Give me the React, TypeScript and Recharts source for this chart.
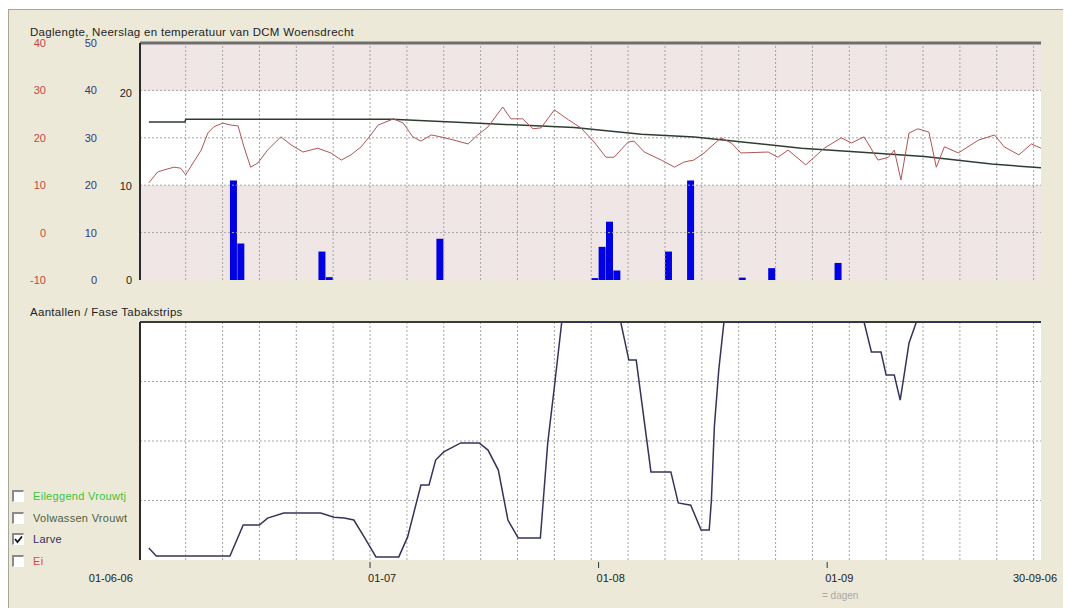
import React from 'react';
import { ComposedChart, LineChart, Line, Bar, XAxis, YAxis, ReferenceArea, ReferenceLine } from 'recharts';

const FONT = '"Liberation Sans", Arial, sans-serif';

// [day since 01-06-06, value]
const temperature: [number, number][] = [
  [0, 10.5], [1.2, 12.8], [2, 13.2], [3.4, 13.8], [4.3, 13.6], [5, 12.2], [6, 14.7], [7.1, 17.4], [8, 21.0],
  [8.8, 22.3], [10, 23.1], [11.1, 22.7], [12.1, 22.5], [12.9, 18.1], [13.8, 13.8], [14.8, 14.7], [16.1, 17.4],
  [17.9, 20.2], [19.3, 18.5], [20.9, 17.0], [22.9, 17.8], [24.7, 16.8], [26.1, 15.3], [27.4, 16.4], [28.8, 18.1],
  [30.1, 20.6], [31.1, 22.7], [33.2, 24.0], [34.5, 23.1], [35.8, 20.2], [36.9, 19.3], [38.3, 20.6], [39.6, 20.2],
  [41.4, 19.5], [43.3, 18.7], [44.6, 20.6], [46, 22.3], [48, 26.5], [49.1, 24.0], [50.7, 24.0], [52.1, 21.9],
  [53.2, 22.1], [55, 25.9], [56.9, 23.8], [58.6, 22.1], [60.4, 19.1], [62, 15.9], [63.1, 15.9], [65, 19.1],
  [65.8, 19.3], [67.2, 17.0], [69.5, 15.3], [71.3, 13.8], [72.6, 14.9], [73.9, 15.3], [75.3, 16.8], [77.6, 20.0],
  [79, 18.9], [80.3, 16.8], [84, 17.0], [85.3, 15.9], [86.7, 17.4], [89.1, 14.3], [91.6, 17.8], [93.9, 20.0],
  [95.3, 18.9], [97, 20.2], [98.9, 15.3], [100.3, 15.9], [101.1, 17.4], [102, 11.1], [103.1, 21.0], [104.3, 21.9],
  [105.8, 21.2], [106.8, 13.8], [107.9, 18.1], [109.8, 16.8], [112.5, 19.5], [114.7, 20.6], [116, 18.1],
  [118, 16.4], [119.7, 18.7], [121, 17.8],
];

const dayLength: [number, number][] = [
  [0, 16.9], [4.9, 16.9], [5, 17.2], [33, 17.2], [44, 16.8], [57.7, 16.3], [66.8, 15.6], [74, 15.3],
  [88.5, 14.1], [96.2, 13.7], [105.2, 13.2], [114.3, 12.4], [121, 12.0],
];

const precipitation: [number, number][] = [
  [11.5, 21], [12.5, 7.7], [23.5, 6], [24.5, 0.6], [39.5, 8.7], [60.5, 0.4], [61.5, 7], [62.5, 12.3],
  [63.5, 2], [70.5, 6], [73.5, 21], [80.5, 0.5], [84.5, 2.5], [93.5, 3.6],
];

const larva: [number, number][] = [
  [0, 5], [1, 1.7], [11, 1.7], [12.8, 14.7], [15, 14.7], [16.1, 17.6], [18.3, 19.7], [23.3, 19.7], [25.1, 18],
  [26.5, 17.6], [27.8, 16.8], [29.2, 9.7], [30.4, 3.4], [30.8, 1.3], [33.9, 1.3], [35.1, 9.7], [36.9, 31.5],
  [38, 31.5], [38.9, 42], [40, 45.4], [42.3, 49.2], [44.8, 49.2], [46, 46.2], [47.4, 37.8], [48.7, 16.8],
  [50.1, 9.2], [53.1, 9.2], [54.1, 49.2], [55, 72.7], [56, 100], [64, 100], [65.1, 84], [66.1, 84], [68.1, 37],
  [70.8, 37], [71.8, 24], [73.5, 23], [74.9, 12.6], [76, 12.6], [76.3, 25.2], [76.7, 56], [77.3, 80], [78, 100],
  [97, 100], [98, 87.4], [99.3, 87.4], [100, 77.7], [101.1, 77.7], [101.9, 67.2], [102.4, 76.9], [103.1, 91.2],
  [104.1, 100], [121, 100],
];

const gridDays = [5, 10, 15, 20, 25, 30, 35, 40, 45, 50, 55, 60, 65, 70, 75, 80, 85, 90, 95, 100, 105, 110, 115, 120];
const tempTicks = [-10, 0, 10, 20, 30, 40];
const rainTicks = [0, 10, 20, 30, 40, 50];
const dayLenTicks = [0, 10, 20];
const tempGrid = [0, 10, 20, 30];
const larvaGrid = [25, 50, 75];
const xTicks = [0, 30, 61, 92, 121];
const xTickLabels = ['01-06-06', '01-07', '01-08', '01-09', '30-09-06'];
const legendItems = [
  { label: 'Eileggend Vrouwtj', color: '#3cc43c', checked: false },
  { label: 'Volwassen Vrouwt', color: '#4e6040', checked: false },
  { label: 'Larve', color: '#30305e', checked: true },
  { label: 'Ei', color: '#e04848', checked: false },
];

const X_DOMAIN: [number, number] = [-1.2, 121];
const TEMP_DOMAIN: [number, number] = [-10, 40];
const DAYLEN_DOMAIN: [number, number] = [0, 25.35];
const RAIN_DOMAIN: [number, number] = [0, 50];

function buildLineData() {
  const map = new Map<number, any>();
  const put = (arr: [number, number][], key: string) => {
    arr.forEach(([d, v]) => {
      const o = map.get(d) || { day: d };
      o[key] = v;
      map.set(d, o);
    });
  };
  put(temperature, 'temp');
  put(dayLength, 'dayLen');
  return Array.from(map.values()).sort((a, b) => a.day - b.day);
}

const lineData = buildLineData();
const rainData = precipitation.map(([day, v]) => ({ day, rain: v }));
const larvaData = larva.map(([day, v]) => ({ day, larva: v }));

const DateTick = (props: any) => {
  const { x, y, payload } = props;
  const i = xTicks.indexOf(payload.value);
  const label = xTickLabels[i];
  const first = i === 0;
  const last = i === xTicks.length - 1;
  const anchor = first ? 'end' : last ? 'middle' : 'start';
  const tx = first ? x - 16 : last ? x - 6 : x - 2;
  return (
    <g>
      {!first && !last && <line x1={x} x2={x} y1={y - 6} y2={y} stroke="#333" strokeWidth={1} />}
      <text x={tx} y={y + 14} textAnchor={anchor} fontSize={11} fontFamily={FONT} fill="#222">{label}</text>
    </g>
  );
};

const Checkbox = ({ checked }: { checked: boolean }) => (
  <div style={{
    width: 9, height: 9, background: '#fff', borderTop: '2px solid #8a8a8a', borderLeft: '2px solid #8a8a8a',
    borderBottom: '1px solid #fff', borderRight: '1px solid #fff', position: 'relative', boxSizing: 'content-box',
  }}>
    {checked && (
      <svg width={9} height={9} style={{ position: 'absolute', left: 0, top: 0 }}>
        <path d="M1 4 L3.5 7 L8 1.5" stroke="#111" strokeWidth={1.8} fill="none" />
      </svg>
    )}
  </div>
);

export default function App() {
  const gridStroke = '#a4a4a4';
  const titleStyle: React.CSSProperties = {
    position: 'absolute', left: 22, fontSize: 11.5, letterSpacing: 0.3, color: '#1e1e1e', whiteSpace: 'nowrap',
  };
  return (
    <div style={{ position: 'relative', width: 1063, height: 600, fontFamily: FONT }}>
      <div style={{
        position: 'absolute', left: 0, top: 1, right: 0, bottom: 0, background: '#ECE9D8',
        borderTop: '1px solid #a9a699', borderLeft: '1px solid #a9a699',
      }} />
      <div style={{ ...titleStyle, top: 18 }}>Daglengte, Neerslag en temperatuur van DCM Woensdrecht</div>
      <div style={{ position: 'absolute', left: 0, top: 0 }}>
        <ComposedChart width={1063} height={290} data={rainData} margin={{ top: 35, right: 30, bottom: 18, left: 0 }}>
          <XAxis type="number" dataKey="day" domain={X_DOMAIN} allowDataOverflow hide />
          <YAxis yAxisId="dayLen" width={35} domain={DAYLEN_DOMAIN} ticks={dayLenTicks} allowDataOverflow
            axisLine={{ stroke: '#2a2a2a', strokeWidth: 2 }} tickLine={false}
            tick={{ fill: '#1e1e1e', fontSize: 11, fontFamily: FONT }} />
          <YAxis yAxisId="rain" width={51} domain={RAIN_DOMAIN} ticks={rainTicks} allowDataOverflow
            axisLine={false} tickLine={false}
            tick={{ fill: '#38387a', fontSize: 11, fontFamily: FONT }} />
          <YAxis yAxisId="temp" width={46} domain={TEMP_DOMAIN} ticks={tempTicks} allowDataOverflow
            axisLine={false} tickLine={false}
            tick={{ fill: '#c44848', fontSize: 11, fontFamily: FONT }} />
          <ReferenceArea yAxisId="temp" y1={-10} y2={10} fill="#F1E6E6" fillOpacity={1} stroke="none" />
          <ReferenceArea yAxisId="temp" y1={10} y2={30} fill="#FFFFFF" fillOpacity={1} stroke="none" />
          <ReferenceArea yAxisId="temp" y1={30} y2={40} fill="#F1E6E6" fillOpacity={1} stroke="none" />
          {gridDays.map((d) => (
            <ReferenceLine key={'v' + d} yAxisId="temp" x={d} stroke={gridStroke} strokeDasharray="2 2" />
          ))}
          {tempGrid.map((t) => (
            <ReferenceLine key={'h' + t} yAxisId="temp" y={t} stroke={gridStroke} strokeDasharray="2 2" />
          ))}
          <ReferenceLine yAxisId="temp" y={40} stroke="#6e6e6e" strokeWidth={3} ifOverflow="visible" />
          <Bar yAxisId="rain" dataKey="rain" fill="#0000E2" barSize={7} isAnimationActive={false} />
        </ComposedChart>
      </div>
      <div style={{ position: 'absolute', left: 0, top: 0 }}>
        <LineChart width={1063} height={290} data={lineData} margin={{ top: 35, right: 30, bottom: 18, left: 132 }}>
          <XAxis type="number" dataKey="day" domain={X_DOMAIN} allowDataOverflow hide />
          <YAxis yAxisId="dayLen" domain={DAYLEN_DOMAIN} allowDataOverflow hide />
          <YAxis yAxisId="temp" domain={TEMP_DOMAIN} allowDataOverflow hide />
          <Line yAxisId="dayLen" type="linear" dataKey="dayLen" stroke="#2f3d31" strokeWidth={1.5} dot={false}
            connectNulls isAnimationActive={false} />
          <Line yAxisId="temp" type="linear" dataKey="temp" stroke="#b25454" strokeWidth={1} dot={false}
            connectNulls isAnimationActive={false} />
        </LineChart>
      </div>
      <div style={{ ...titleStyle, top: 298 }}>Aantallen / Fase Tabakstrips</div>
      <div style={{ position: 'absolute', left: 0, top: 290 }}>
        <LineChart width={1063} height={310} data={larvaData} margin={{ top: 24, right: 30, bottom: 18, left: 0 }}>
          <XAxis type="number" dataKey="day" domain={X_DOMAIN} allowDataOverflow ticks={xTicks} interval={0}
            axisLine={false} tickLine={false} tick={<DateTick />} height={30} />
          <YAxis width={132} domain={[0, 100]} allowDataOverflow tick={false} tickLine={false}
            axisLine={{ stroke: '#2a2a2a', strokeWidth: 2 }} />
          <ReferenceArea y1={0} y2={100} fill="#FFFFFF" fillOpacity={1} stroke="none" />
          {gridDays.map((d) => (
            <ReferenceLine key={'bv' + d} x={d} stroke={gridStroke} strokeDasharray="2 2" />
          ))}
          {larvaGrid.map((v) => (
            <ReferenceLine key={'bh' + v} y={v} stroke={gridStroke} strokeDasharray="2 2" />
          ))}
          <ReferenceLine y={100} stroke="#3a3a3a" strokeWidth={2} ifOverflow="visible" />
          <Line type="linear" dataKey="larva" stroke="#34345a" strokeWidth={1.5} dot={false}
            isAnimationActive={false} />
        </LineChart>
      </div>
      <div style={{ position: 'absolute', left: 814, top: 582, fontSize: 10, color: '#a8a8a8' }}>= dagen</div>
      {legendItems.map((it, i) => (
        <div key={it.label} style={{
          position: 'absolute', left: 4, top: 482 + i * 21.5, display: 'flex', alignItems: 'center',
          fontSize: 11, letterSpacing: 0.3, color: it.color, whiteSpace: 'nowrap',
        }}>
          <Checkbox checked={it.checked} />
          <span style={{ marginLeft: 9 }}>{it.label}</span>
        </div>
      ))}
    </div>
  );
}
